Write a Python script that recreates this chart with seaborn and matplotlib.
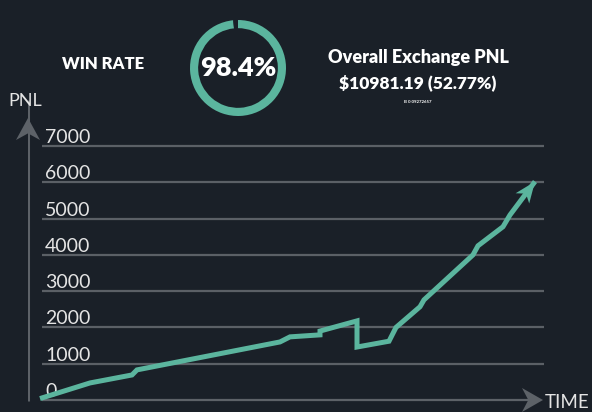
import math
import matplotlib
matplotlib.use("Agg")
import matplotlib.pyplot as plt
import matplotlib.transforms as mtransforms
from matplotlib.patches import Polygon
import seaborn as sns
import pandas as pd

# ---------------- data ----------------
win_rate = 98.4
header_left = "WIN RATE"
pnl_title = "Overall Exchange PNL"
pnl_value = "$10981.19 (52.77%)"
pnl_btc = "B 0.09272657"

times = [0, 50, 92, 97, 240, 250, 280, 280, 317, 317, 349, 356, 380, 384,
         433, 438, 463, 470, 495]
pnl = [40, 470, 690, 830, 1600, 1740, 1795, 1900, 2180, 1460, 1620, 2000,
       2570, 2760, 4000, 4250, 4775, 5100, 6020]
yticks = [0, 1000, 2000, 3000, 4000, 5000, 6000, 7000]
ytick_labels = ["0", "1000", "2000", "3000", "4000", "5000", "6000", "7000"]

# ---------------- style ----------------
BG = "#1a2028"
TEAL = "#5bb59e"
GRID = "#5b6066"
AXIS = "#5d6268"
TXT = "#ffffff"
LBL = "#e4e4e4"

sns.set_theme(style="dark")
plt.rcParams["font.family"] = ["Lato", "DejaVu Sans"]

W, H = 592, 412
fig = plt.figure(figsize=(W / 100, H / 100), dpi=100, facecolor=BG)

# main axes: px x 28..592, y 100..412
ax = fig.add_axes([28 / W, 0, (W - 28) / W, 312 / H])
ax.set_facecolor(BG)
pxu = 1000 / 36.286  # data units per pixel (y)
ax.set_ylim(-12 * pxu, 7000 + 46 * pxu)
ax.set_xlim(-12, 552)
ax.axis("off")

# grid lines
ax.hlines(yticks[1:], 2, 504, color=GRID, lw=1.6, zorder=1)
ax.hlines([0], 2, 492, color=AXIS, lw=1.6, zorder=1)
# y axis shaft
ax.vlines([-12], -1 * pxu, 7000 + (146 - 118 + 18) * pxu, color=AXIS, lw=2.2, zorder=1)

for v, lab in zip(yticks, ytick_labels):
    ax.annotate(lab, xy=(5, v), xytext=(0, 3), textcoords="offset pixels",
                ha="left", va="baseline", color=LBL, fontsize=14,
                fontweight="normal", zorder=3)


def head(x, y, direction, length, width, color, notch=0.3):
    pts = [(0, 0), (-length, width / 2), (-length * (1 - notch), 0), (-length, -width / 2)]
    if direction == "up":
        pts = [(-b, a) for a, b in pts]
    tr = mtransforms.Affine2D().scale(1 / 100) + fig.dpi_scale_trans + \
        mtransforms.ScaledTranslation(x, y, ax.transData)
    ax.add_artist(Polygon(pts, closed=True, transform=tr, facecolor=color,
                          edgecolor="none", clip_on=False, zorder=2))


head(-12, 7000 + 28 * pxu, "up", 22, 24, AXIS)
head(503, 0, "right", 21, 24, AXIS)

# data line
df = pd.DataFrame({"time": times, "pnl": pnl})
sns.lineplot(data=df, x="time", y="pnl", sort=False, estimator=None, ax=ax,
             color=TEAL, lw=3.6, zorder=4)
for l in ax.lines:
    l.set_solid_joinstyle("miter")
    l.set_solid_capstyle("butt")
    l.set_clip_on(False)

# arrow head at the end of line
dx = times[-1] - times[-2]
dy = (pnl[-1] - pnl[-2]) / pxu
ang = math.degrees(math.atan2(dy, dx))
L, Wd = 21, 17
pts = [(0, 0), (-L, Wd / 2), (-L * 0.72, 0), (-L, -Wd / 2)]
tr = mtransforms.Affine2D().rotate_deg(ang).scale(1 / 100) + fig.dpi_scale_trans + \
    mtransforms.ScaledTranslation(times[-1], pnl[-1], ax.transData)
ax.add_artist(Polygon(pts, closed=True, transform=tr, facecolor=TEAL,
                      edgecolor="none", clip_on=False, zorder=5))

# axis labels
fig.text(8 / W, 1 - 101 / H, "PNL", color=LBL, fontsize=13, fontweight="normal",
         ha="left", va="center")
fig.text(545 / W, 1 - 402 / H, "TIME", color=LBL, fontsize=13.5, fontweight="normal",
         ha="left", va="center")

# donut
dax = fig.add_axes([178 / W, 1 - 128 / H, 120 / W, 120 / H])
dax.set_facecolor(BG)
dax.pie([win_rate, 100 - win_rate], colors=[TEAL, BG], startangle=90,
        counterclock=False, radius=1.0,
        wedgeprops=dict(width=0.17, edgecolor="none"))
dax.set_aspect("equal")
dax.text(0, 0, f"{win_rate}%", ha="center", va="center", color=TXT,
         fontsize=19.5, fontweight="heavy")

# header texts
fig.text(103 / W, 1 - 64 / H, header_left, ha="center", va="center", color=TXT,
         fontsize=12, fontweight="heavy")
fig.text(418 / W, 1 - 57 / H, pnl_title, ha="center", va="center", color=TXT,
         fontsize=13, fontweight="heavy")
fig.text(418 / W, 1 - 83 / H, pnl_value, ha="center", va="center", color=TXT,
         fontsize=12.5, fontweight="heavy")
fig.text(418 / W, 1 - 102 / H, pnl_btc, ha="center", va="center", color=TXT,
         fontsize=3.2, fontweight="bold")

fig.savefig("out.png", dpi=100, facecolor=BG)
